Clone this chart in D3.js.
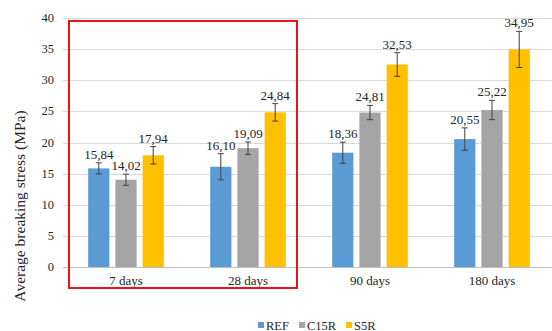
<!DOCTYPE html>
<html>
<head>
<meta charset="utf-8">
<script src="https://cdn.jsdelivr.net/npm/d3@7"></script>
<style>
  body { margin: 0; background: #fff; }
  svg text { font-family: "Liberation Serif" !important; fill: #262626; }
</style>
</head>
<body>
<div class="chart"></div>
<script>
const categories = ['7 days', '28 days', '90 days', '180 days'];
const series = ['REF', 'C15R', 'S5R'];
const refValues  = [15.84, 16.10, 18.36, 20.55];
const c15rValues = [14.02, 19.09, 24.81, 25.22];
const s5rValues  = [17.94, 24.84, 32.53, 34.95];
const refErrors  = [0.9, 2.1, 1.7, 1.8];
const c15rErrors = [0.9, 1.0, 1.15, 1.55];
const s5rErrors  = [1.4, 1.4, 1.9, 2.9];
const yTicks = [0, 5, 10, 15, 20, 25, 30, 35, 40];

const values = { REF: refValues, C15R: c15rValues, S5R: s5rValues };
const errors = { REF: refErrors, C15R: c15rErrors, S5R: s5rErrors };
const colors = { REF: '#5b9bd5', C15R: '#a5a5a5', S5R: '#ffc000' };

const width = 552, height = 331;
const margin = { top: 18, right: 0, bottom: 64, left: 65 };
const font = 'Liberation Serif';

const svg = d3.select('.chart')
  .append('svg')
    .attr('width', width)
    .attr('height', height);

const x0 = d3.scaleBand()
  .domain(categories)
  .range([margin.left, width - margin.right + 1])
  .paddingInner(0.38)
  .paddingOuter(0.19);

const x1 = d3.scaleBand()
  .domain(series)
  .range([0, x0.bandwidth()])
  .paddingInner(0.22);

const y = d3.scaleLinear()
  .domain([0, 40])
  .range([height - margin.bottom, margin.top]);

// gridlines
svg.append('g')
  .selectAll('line')
  .data(yTicks)
  .enter()
  .append('line')
    .attr('x1', margin.left - 2)
    .attr('x2', width)
    .attr('y1', d => Math.round(y(d)) + 0.5)
    .attr('y2', d => Math.round(y(d)) + 0.5)
    .attr('stroke', d => d === 0 ? '#bfbfbf' : '#d9d9d9')
    .attr('stroke-width', 1);

// tick labels
svg.append('g')
  .selectAll('text')
  .data(yTicks)
  .enter()
  .append('text')
    .attr('x', 54)
    .attr('y', d => y(d) + 4)
    .attr('text-anchor', 'end')
    .attr('font-family', font)
    .style('font-family', font)
    .style('font-size', '12.5px')
    .text(d => d);

const rows = [];
categories.forEach((c, i) => {
  series.forEach(s => rows.push({ cat: c, s, v: values[s][i], e: errors[s][i] }));
});

svg.append('g')
  .selectAll('rect')
  .data(rows)
  .enter()
  .append('rect')
    .attr('x', d => x0(d.cat) + x1(d.s))
    .attr('y', d => y(d.v))
    .attr('width', x1.bandwidth())
    .attr('height', d => y(0) - y(d.v))
    .attr('fill', d => colors[d.s]);

// error bars
const err = svg.append('g')
  .attr('stroke', '#404040')
  .attr('stroke-width', 1);

rows.forEach(d => {
  const cx = x0(d.cat) + x1(d.s) + x1.bandwidth() / 2;
  err.append('line')
    .attr('x1', cx).attr('x2', cx)
    .attr('y1', y(d.v + d.e)).attr('y2', y(d.v - d.e));
  [d.v + d.e, d.v - d.e].forEach(v => {
    err.append('line')
      .attr('x1', cx - 3).attr('x2', cx + 3)
      .attr('y1', y(v)).attr('y2', y(v));
  });
});

// value labels
svg.append('g')
  .selectAll('text')
  .data(rows)
  .enter()
  .append('text')
    .attr('x', d => x0(d.cat) + x1(d.s) + x1.bandwidth() / 2)
    .attr('y', d => y(d.v + d.e) - 4)
    .attr('text-anchor', 'middle')
    .attr('font-family', font)
    .style('font-family', font)
    .style('font-size', '13px')
    .text(d => d.v.toFixed(2).replace('.', ','));

// category labels
svg.append('g')
  .selectAll('text')
  .data(categories)
  .enter()
  .append('text')
    .attr('x', d => x0(d) + x0.bandwidth() / 2)
    .attr('y', 285)
    .attr('text-anchor', 'middle')
    .attr('font-family', font)
    .style('font-family', font)
    .style('font-size', '13px')
    .text(d => d);

// axis title
svg.append('text')
  .attr('transform', 'translate(25,206) rotate(-90)')
  .attr('text-anchor', 'middle')
  .attr('font-family', font)
  .style('font-family', font)
  .style('font-size', '15.5px')
  .text('Average breaking stress (MPa)');

// red highlight box
svg.append('rect')
  .attr('x', 69)
  .attr('y', 21)
  .attr('width', 228)
  .attr('height', 267)
  .attr('fill', 'none')
  .attr('stroke', '#e8141c')
  .attr('stroke-width', 2);

// legend
const legendX = [258, 299, 346];
const legend = svg.append('g')
  .selectAll('g')
  .data(series)
  .enter()
  .append('g')
    .attr('transform', (d, i) => `translate(${legendX[i]},325)`);

legend.append('rect')
  .attr('x', 0)
  .attr('y', -3)
  .attr('width', 6)
  .attr('height', 6)
  .attr('fill', d => colors[d]);

legend.append('text')
  .attr('x', 8)
  .attr('y', 4.5)
  .attr('font-family', font)
  .style('font-family', font)
  .style('font-size', '12.5px')
  .text(d => d);
</script>
</body>
</html>
